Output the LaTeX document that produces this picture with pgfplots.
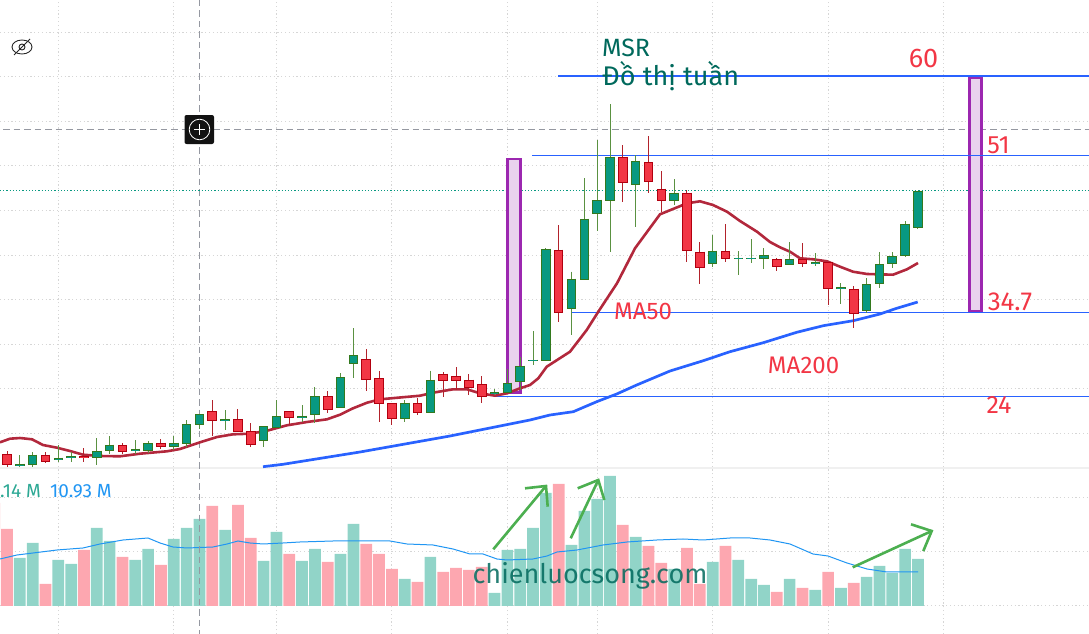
\documentclass[border=0pt]{standalone}
\usepackage{pgfplots}
\usepackage{pgfplotstable}
\usepackage{fontspec}
\setmainfont{Fira Sans}
\pgfplotsset{compat=1.18}
\definecolor{upfill}{HTML}{089981}
\definecolor{upborder}{HTML}{33791E}
\definecolor{upwick}{HTML}{5A9141}
\definecolor{dnfill}{HTML}{F23645}
\definecolor{dnborder}{HTML}{B2000F}
\definecolor{dnwick}{HTML}{B2222B}
\definecolor{volup}{HTML}{91D4C8}
\definecolor{voldn}{HTML}{FDA7B0}
\definecolor{maone}{HTML}{B2283C}
\definecolor{matwo}{HTML}{2962FF}
\definecolor{volma}{HTML}{2196F3}
\definecolor{gridc}{HTML}{D6D6D6}
\definecolor{cross}{HTML}{9598A1}
\definecolor{purp}{HTML}{9C27B0}
\definecolor{purpf}{HTML}{E9D2EE}
\definecolor{tealt}{HTML}{00695C}
\definecolor{redt}{HTML}{F23645}
\definecolor{arrowg}{HTML}{4CAF50}
\definecolor{sepc}{HTML}{F0F0F0}
% i  body-top  body-bottom  high  low  (pixel rows of the picture)
\pgfplotstableread{
i t b h l
1 464.3 465.0 455.0 466.7
2 455.3 464.3 452.0 466.7
4 458.3 459.3 445.3 462.0
5 457.0 457.5 451.7 462.0
7 451.3 457.3 438.0 465.0
8 445.3 450.3 436.0 454.0
10 449.3 450.7 440.0 454.0
11 443.7 450.0 441.3 453.3
13 443.3 446.3 436.0 450.0
14 424.7 443.3 420.0 446.7
15 414.7 424.3 414.7 428.7
17 420.0 420.3 410.0 430.0
20 426.7 440.3 426.7 446.7
21 416.7 427.3 400.0 427.3
23 416.3 417.3 405.0 421.7
24 396.7 414.3 387.0 422.7
26 377.7 407.3 373.0 407.3
27 355.5 363.3 328.0 377.7
31 403.3 418.3 400.0 422.0
33 380.3 412.0 370.7 412.0
38 392.7 393.0 389.0 395.0
39 383.3 392.7 369.0 392.7
40 366.3 381.7 357.0 390.0
41 360.3 360.7 331.0 364.7
42 249.3 360.3 248.0 360.3
44 279.3 308.3 271.7 334.7
45 219.3 279.5 178.0 279.5
46 200.3 213.3 140.0 230.7
47 157.3 200.3 104.0 251.7
49 161.3 184.7 155.0 226.7
52 193.3 200.3 179.0 205.0
55 251.3 263.3 235.0 266.7
57 258.3 258.7 251.0 275.0
58 258.3 258.7 239.0 262.7
59 255.3 258.5 248.0 268.7
61 259.3 264.3 242.0 264.3
63 263.0 263.7 253.0 265.7
65 288.0 288.3 283.0 304.0
67 284.7 310.7 278.0 312.7
68 264.7 283.3 252.0 287.7
69 256.7 263.3 252.0 268.0
70 224.3 255.7 221.0 257.0
71 191.3 227.3 191.3 229.0
}\upcandles
\pgfplotstableread{
i t b h l
0 454.7 464.3 451.0 466.7
3 455.3 461.3 452.0 462.7
6 457.0 457.5 448.0 462.0
9 445.7 451.3 443.0 454.0
12 443.3 446.3 439.0 448.7
16 411.7 420.3 400.0 436.0
18 419.7 431.3 409.0 431.3
19 431.7 444.3 423.0 446.7
22 411.7 417.3 411.7 425.0
25 396.7 409.3 391.0 412.7
28 359.7 379.3 349.0 390.7
29 378.7 403.3 371.0 422.0
30 403.3 418.0 403.3 425.0
32 403.3 412.3 398.3 415.0
34 374.3 380.3 372.0 396.7
35 376.3 380.7 367.0 390.0
36 380.3 387.3 374.0 395.0
37 384.7 396.3 376.0 402.7
43 250.3 312.3 225.0 321.7
48 157.7 182.3 145.0 201.7
50 162.7 181.7 136.0 192.7
51 189.3 200.3 171.0 211.7
53 193.3 250.3 190.0 261.7
54 252.3 267.3 242.0 283.7
56 251.3 258.3 224.0 261.7
60 259.7 266.3 258.0 270.7
62 259.3 263.3 243.0 266.7
64 262.3 288.3 262.3 304.7
66 289.3 313.3 286.3 327.7
}\dncandles
% i  bar height above the volume baseline
\pgfplotstableread{
i v
1 48
2 63
4 46
5 42
7 78
8 65
10 46
11 57
13 67
14 78
15 87
17 76
20 45
21 74
23 45
24 57
26 52
27 82
31 27
33 49
38 13
39 56
40 57
41 78
42 113
44 61
45 95
46 107
47 130
49 69
52 37
55 44
57 46
58 27
59 21
61 27
63 16
65 18
67 29
68 40
69 33
70 57
71 47
}\volup
\pgfplotstableread{
i v
-1 103
0 77
3 22
6 56
9 49
12 41
16 100
18 101
19 68
22 52
25 44
28 62
29 52
30 37
32 24
34 34
35 38
36 36
37 39
43 122
48 81
50 60
51 43
53 58
54 22
56 60
60 14
62 18
64 34
66 23
}\voldn
\begin{document}
\begin{tikzpicture}[x=1pt,y=1pt]
\path[use as bounding box] (0,0) rectangle (1089pt,634pt);
\clip (0,0) rectangle (1089pt,634pt);
% volume pane with the grid beneath everything
\begin{axis}[at={(0,0)},anchor=south west,scale only axis,width=1089pt,height=634pt,
  xmin=0,xmax=1089,ymin=-28,ymax=606,
  axis line style={draw=none},tick style={draw=none},
  xticklabels={},yticklabels={},
  xtick={58,173.7,276.7,391.7,507.7,597.7,712.3,828.5,943.3},
  ytick={574,530,485,441,396,351,307,262,218,173,109,55,1},
  grid=major,grid style={draw=gridc,line width=0.8pt,dash pattern=on 1.2pt off 2.6pt},
  clip=true]
\addplot[ybar,bar width=11.7pt,bar shift=0pt,fill=volup,draw=none] table[x expr={7+12.83*\thisrow{i}},y=v]{\volup};
\addplot[ybar,bar width=11.7pt,bar shift=0pt,fill=voldn,draw=none] table[x expr={7+12.83*\thisrow{i}},y=v]{\voldn};
\addplot[volma,line width=1pt] coordinates {
(0,47)(17,51)(33,53)(57,56)(83,58)(100,62)(123,66)(148,68)(160,63)(173,59)(187,58)(213,59)(227,62)(238,65)(250,63)(263,62)(283,63)(300,64)(333,65)(390,65)(407,62)(433,61)(453,57)(470,52)(483,52)
(497,47)(507,46)(533,47)(547,50)(557,54)(577,56)(603,61)(627,64)(657,66)(683,67)(703,66)(730,68)(750,68)(770,66)(790,62)(813,52)(828,50)(847,43)(867,37)(887,34)(918,34)};
\end{axis}
% price pane, in pixel rows of the picture
\begin{axis}[at={(0,0)},anchor=south west,scale only axis,width=1089pt,height=634pt,
  xmin=0,xmax=1089,ymin=0,ymax=634,y dir=reverse,hide axis,clip=true]
\addplot[sepc,line width=2pt] coordinates {(0,467.5)(1089,467.5)};
\addplot[cross,line width=1pt,dash pattern=on 6.5pt off 4pt] coordinates {(199.5,0)(199.5,634)};
\addplot[cross,line width=1pt,dash pattern=on 6.5pt off 4pt] coordinates {(3,129.5)(1089,129.5)};
\addplot[upfill,line width=1pt,dash pattern=on 1.2pt off 2pt] coordinates {(0,190.5)(1089,190.5)};
\addplot[purp,fill=purpf,line width=2.6pt] coordinates {(507.5,159)(520.5,159)(520.5,392.5)(507.5,392.5)} --cycle;
\addplot[purp,fill=purpf,line width=2.6pt] coordinates {(969.5,77.5)(981.5,77.5)(981.5,311)(969.5,311)} --cycle;
\addplot[matwo,line width=1.6pt] coordinates {(558,76)(1089,76)};
\addplot[matwo,line width=0.8pt] coordinates {(532,155.3)(1089,155.3)};
\addplot[matwo,line width=1pt] coordinates {(571.5,312.3)(1089,312.3)};
\addplot[matwo,line width=1pt] coordinates {(495,396)(1089,396)};
\addplot[matwo,line width=2.7pt] coordinates {(263,466.7)(283,464.3)(360,452)(450,436)(530,420)(550,415)(573.3,411.7)(596.7,401.7)(616.7,394)(636.7,385)(670,371)(703.3,360.7)(730,351.7)(763.3,342.7)(796.7,332.3)(823.3,325.7)(853.3,320.7)(880,314)(896.7,308.3)(917.7,302)};
\addplot[maone,line width=2.6pt] coordinates {
(0,442.3)(10,438.7)(20,438)(32,439.3)(43,445)(57,447.7)(70,451)(83,454.7)(100,456)(120,456.3)(140,453.7)(167,451.3)(180,449)(200,442.3)(217,437)(233,434.3)(250,433.7)(267,430.7)(287,425.3)(307,422)(327,419.3)(340,414.7)
(353,408.3)(367,402.7)(380,399.3)(420,395.7)(433,392.7)(453,389.3)(467,389.3)(480,393.3)(495,395.7)(507,393.3)(520,388.3)(530,385)(538.3,378.3)(546.7,366.7)(570,351.7)(586.7,330)(598.3,311.7)
(617,283.3)(635,248.3)(660,214.3)(673,209)(687,203.3)(700,201.3)(713,205)(727,211.7)(740,221)(757,231.7)(770,242)(780,247.3)(790,251.7)(800,258.3)(813,259.3)(827,261.3)(840,266.7)(853,271.7)(867,274)(893,274.7)(907,269.3)(918,263)};
\addplot[upwick,line width=1pt,quiver={u=0,v={\thisrow{l}-\thisrow{h}}}] table[x expr={7+12.83*\thisrow{i}},y=h]{\upcandles};
\addplot[dnwick,line width=1pt,quiver={u=0,v={\thisrow{l}-\thisrow{h}}}] table[x expr={7+12.83*\thisrow{i}},y=h]{\dncandles};
\addplot[upborder,line width=9.6pt,quiver={u=0,v={\thisrow{b}-\thisrow{t}+1.2}}] table[x expr={7+12.83*\thisrow{i}},y expr={\thisrow{t}-0.6}]{\upcandles};
\addplot[dnborder,line width=9.6pt,quiver={u=0,v={\thisrow{b}-\thisrow{t}+1.2}}] table[x expr={7+12.83*\thisrow{i}},y expr={\thisrow{t}-0.6}]{\dncandles};
\addplot[upfill,line width=7.6pt,quiver={u=0,v={\thisrow{b}-\thisrow{t}-0.8}}] table[x expr={7+12.83*\thisrow{i}},y expr={\thisrow{t}+0.4}]{\upcandles};
\addplot[dnfill,line width=7.6pt,quiver={u=0,v={\thisrow{b}-\thisrow{t}-0.8}}] table[x expr={7+12.83*\thisrow{i}},y expr={\thisrow{t}+0.4}]{\dncandles};
% hand-drawn arrows
\addplot[arrowg,line width=2.6pt] coordinates {(493.3,549.3)(546,486)};
\addplot[arrowg,line width=2.6pt] coordinates {(525,488.3)(546,486)(547.7,506.7)};
\addplot[arrowg,line width=2.6pt] coordinates {(570.7,538.3)(598.3,480)};
\addplot[arrowg,line width=2.6pt] coordinates {(577.7,488.3)(598.3,480)(604.3,500)};
\addplot[arrowg,line width=2.6pt] coordinates {(852.7,567.3)(931.7,531)};
\addplot[arrowg,line width=2.6pt] coordinates {(911,524.3)(931.7,531)(923.3,551)};
% texts
\node[anchor=west,inner sep=0,text=tealt,font=\fontsize{25}{25}\selectfont] at (axis cs:602,48) {MSR};
\node[anchor=west,inner sep=0,text=tealt,font=\fontsize{27}{27}\selectfont] at (axis cs:602,76) {Đồ thị tuần};
\node[anchor=center,inner sep=0,text=redt,font=\fontsize{27}{27}\selectfont] at (axis cs:923.5,58) {60};
\node[anchor=center,inner sep=0,text=redt,font=\fontsize{25}{25}\selectfont] at (axis cs:998.5,145) {51};
\node[anchor=center,inner sep=0,text=redt,font=\fontsize{26}{26}\selectfont] at (axis cs:1010,302) {34.7};
\node[anchor=center,inner sep=0,text=redt,font=\fontsize{25}{25}\selectfont] at (axis cs:999,405) {24};
\node[anchor=center,inner sep=0,text=redt,font=\fontsize{24}{24}\selectfont] at (axis cs:643,311) {MA50};
\node[anchor=center,inner sep=0,text=redt,font=\fontsize{24}{24}\selectfont] at (axis cs:803.5,365) {MA200};
\node[anchor=center,inner sep=0,text=tealt,opacity=0.85,font=\fontsize{27}{27}\selectfont] at (axis cs:590,576) {chienluocsong.com};
\node[anchor=west,inner sep=0,text=upfill!85!white,font=\fontsize{19}{19}\selectfont] at (axis cs:0,491) {.14 M};
\node[anchor=west,inner sep=0,text=volma,font=\fontsize{19}{19}\selectfont] at (axis cs:50,491) {10.93 M};
% crosshair badge
\fill[black!93,rounded corners=2pt] (axis cs:184.5,115) rectangle (axis cs:214,144);
\draw[white,line width=0.8pt] (axis cs:199.5,129.5) circle[radius=10.3pt];
\draw[white,line width=0.9pt] (axis cs:194,129.5) -- (axis cs:205,129.5) (axis cs:199.5,124) -- (axis cs:199.5,135);
% hide-drawings icon
\draw[black!85,line width=0.9pt] (axis cs:22,47) ellipse[x radius=10pt,y radius=7pt];
\draw[black!85,line width=0.9pt] (axis cs:22,47) circle[radius=3pt];
\draw[black!85,line width=0.9pt] (axis cs:14,55) -- (axis cs:30,39);
\end{axis}
\end{tikzpicture}
\end{document}
